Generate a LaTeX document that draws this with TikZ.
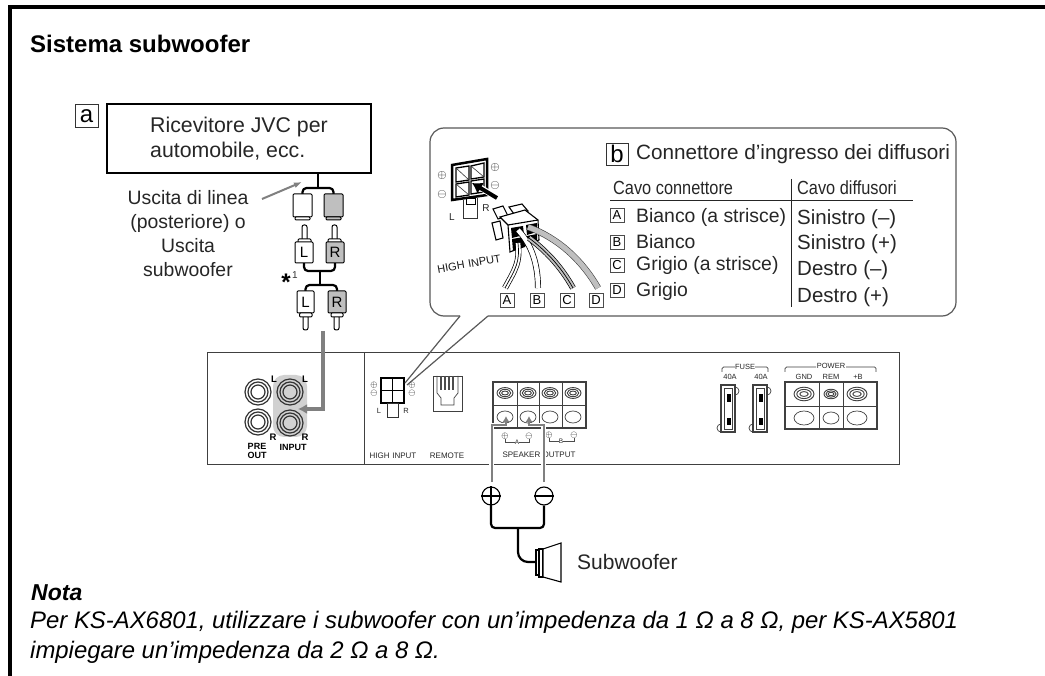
\documentclass[tikz,border=0pt]{standalone}
\usepackage{fontspec}
\setmainfont{Liberation Sans}
\usetikzlibrary{arrows.meta}
\definecolor{gline}{gray}{0.5}
\definecolor{gfill}{gray}{0.75}
\definecolor{hl}{gray}{0.82}
\tikzset{
 lab/.style={font=\fontsize{19.4}{24}\selectfont,text=black!85,inner sep=0},
 tiny/.style={font=\fontsize{7.5}{8}\selectfont,text=black!85,inner sep=0},
 tag/.style={draw=black!70,fill=white,line width=.7pt,minimum width=14pt,minimum height=14pt,inner sep=0,font=\fontsize{13}{13}\selectfont},
 bigtag/.style={draw=black!80,line width=.8pt,minimum width=22pt,minimum height=22pt,inner sep=0,font=\fontsize{24}{24}\selectfont},
 plug/.style={draw=black,line width=1pt,rounded corners=1pt},
 pin/.style={draw=black,line width=1pt,fill=white,rounded corners=2pt},
 body/.style={plug,inner sep=0,font=\fontsize{15}{15}\selectfont},
 wire/.style={draw=black,line width=2.2pt},
 amp/.style={draw=black!75,line width=1pt},
 thin/.style={draw=black!75,line width=.7pt},
 sym/.style={inner sep=0,font=\fontsize{13}{13}\selectfont},
 smsym/.style={inner sep=0,font=\fontsize{9}{9}\selectfont},
 rcal/.style={inner sep=0,font=\bfseries\fontsize{9.5}{10}\selectfont}
}
\newcommand{\rca}[2]{%
 \draw[black!80,line width=1.2pt] (#1,#2) circle (13) (#1,#2) circle (10) (#1,#2) circle (7);
}
\newcommand{\post}[3]{%
 \draw[black!75,line width=.9pt] (#1,#2) ellipse (#3 and {#3*0.68});
 \draw[black!75,line width=.9pt] (#1,#2) ellipse ({#3*.72} and {#3*0.46});
 \draw[black!75,line width=.9pt] (#1,#2) ellipse ({#3*.42} and {#3*0.24});
}
\begin{document}
\begin{tikzpicture}[x=1pt,y=-1pt]
\useasboundingbox (0,0) rectangle (1045,676);
\fill[white] (0,0) rectangle (1045,676);
\draw[black,line width=4pt] (10,676) -- (10,7) -- (1045,7);
\node[anchor=west,inner sep=0,font=\bfseries\fontsize{24}{28}\selectfont] (title) at (30,44) {Sistema subwoofer};
% a
\node[bigtag,minimum width=23pt,minimum height=23pt] (taga) at (86.5,116) {a};
\node[draw=black,line width=2pt,minimum width=264pt,minimum height=69pt,inner sep=0,align=left,font=\fontsize{21.3}{25}\selectfont,text=black!85] (recv) at (239,138.5) {Ricevitore JVC per\\automobile, ecc.};
\node[lab,align=center] (uscita) at (188,234) {Uscita di linea\\(posteriore) o\\Uscita\\subwoofer};
\coordinate (arrs) at (262,199);
\coordinate (arre) at (302,182);
\draw[gline,line width=2pt,-{Latex[length=8pt,width=6pt]}] (arrs) -- (arre);
% top cables
\coordinate (j1) at (318,188);
\draw[wire] (recv.south -| j1) -- (j1);
\draw[wire,rounded corners=4pt] (302.5,196) -- (302.5,188) -- (333.5,188) -- (333.5,196);
\draw[plug,fill=white] (293,194) rectangle (312,217);
\draw[plug,fill=white] (295,217) rectangle (310,220);
\draw[plug,fill=gfill] (324,194) rectangle (343,217);
\draw[plug,fill=gfill] (326,217) rectangle (341,220);
% plugs up
\draw[pin] (302,243) rectangle (307,225);
\draw[pin] (332,243) rectangle (337,225);
\draw[plug,fill=white] (298,239) rectangle (311,243);
\draw[plug,fill=white] (328,239) rectangle (341,243);
\coordinate (j2) at (320,271);
\coordinate (j3) at (320,285);
\draw[wire,rounded corners=4pt] (304,262) -- (304,271) -- (335,271) -- (335,262);
\draw[wire] (j2) -- (j3);
\draw[wire,rounded corners=4pt] (305.5,292) -- (305.5,285) -- (337,285) -- (337,292);
\node[body,fill=white,minimum width=18pt,minimum height=21pt] (l1) at (304,252.5) {L};
\node[body,fill=gfill,minimum width=18pt,minimum height=21pt] (r1) at (335,252.5) {R};
\node[body,fill=white,minimum width=17pt,minimum height=22pt] (l2) at (305.5,302) {L};
\node[body,fill=gfill,minimum width=18pt,minimum height=22pt] (r2) at (337,302) {R};
\draw[pin] (303,315) rectangle (308,330);
\draw[pin] (334,315) rectangle (339,330);
\draw[plug,fill=white] (299.5,313) rectangle (312,317);
\draw[plug,fill=white] (331,313) rectangle (343,317);
\node[inner sep=0,font=\bfseries\fontsize{24}{24}\selectfont] (star) at (286,282) {*};
\node[inner sep=0,font=\fontsize{10}{10}\selectfont,text=black!80] (sup1) at (295,275) {1};
% amp
\draw[amp,fill=white] (207,353) rectangle (899,464);
\draw[amp] (364,353) -- (364,464);
\path[fill=hl,rounded corners=11pt] (273,375) rectangle (307,437);
\rca{258}{392}
\rca{258}{422}
\rca{290}{392}
\rca{290}{423}
\node[rcal] (la1) at (274,379) {L};
\node[rcal] (la2) at (305,379) {L};
\node[rcal] (ra1) at (273,437) {R};
\node[rcal] (ra2) at (305,437) {R};
\node[inner sep=0,align=center,font=\bfseries\fontsize{9}{9}\selectfont] (pre) at (257,450.5) {PRE\\OUT};
\node[inner sep=0,font=\bfseries\fontsize{9}{9}\selectfont] (inp) at (293,447) {INPUT};
\coordinate (grt) at (323,331);
\coordinate (grh) at (298,409);
\draw[gline,line width=3.2pt,-{Latex[length=9pt,width=10pt]}] (grt) |- (grh);
% High input
\node[tiny,font=\fontsize{8}{9}\selectfont] (hi) at (393,456) {HIGH\,\,INPUT};
\node[tiny,font=\fontsize{8}{9}\selectfont] (rem) at (447,456) {REMOTE};
\draw[black,line width=2pt,fill=white] (381,378) rectangle (404,403);
\draw[black,line width=1.2pt] (392.5,378) -- (392.5,403) (381,390.5) -- (404,390.5);
\draw[black!80,line width=.8pt] (387,403) rectangle (398,417);
\node[tiny] (hl) at (379,411) {L};
\node[tiny] (hr) at (406,411) {R};
\foreach \p/\y in {$\oplus$/385,$\ominus$/393}{
 \node[smsym] at (374,\y) {\p};
 \node[smsym] at (412,\y) {\p};}
% remote
\draw[thin] (433,376) rectangle (462,411);
\draw[thin] (437,376) -- (437,393) -- (441,398) -- (441,405) -- (454,405) -- (454,398) -- (458,393) -- (458,376);
\foreach \x in {441,445,449,453}{\draw[black!70,line width=1.4pt] (\x,376) -- (\x,390);}
% speaker block
\draw[amp,line width=1.1pt] (493,382) rectangle (586,428);
\draw[thin] (493,405) -- (586,405);
\foreach \x in {517,539,562}{\draw[thin] (\x,382) -- (\x,428);}
\post{505}{393}{8}
\post{528}{393}{8}
\post{550}{393}{8}
\post{573}{393}{8}
\foreach \x in {505,528,550,573}{\draw[thin] (\x,417) ellipse (8 and 6);}
% speaker labels
\node[smsym] (pa) at (505,436) {$\oplus$};
\node[smsym] (ma) at (529,436) {$\ominus$};
\node[smsym] (pb) at (549,435) {$\oplus$};
\node[smsym] (mb) at (574,435) {$\ominus$};
\node[tiny,font=\fontsize{6.5}{7}\selectfont] (a1) at (517,442) {A};
\node[tiny,font=\fontsize{6.5}{7}\selectfont] (b1) at (561,441) {B};
\draw[black!70,line width=.6pt] (pa.south) |- (a1.west) (a1.east) -| (ma.south) (pb.south) |- (b1.west) (b1.east) -| (mb.south);
\node[tiny,font=\fontsize{8}{9}\selectfont] (spk) at (539,455) {SPEAKER OUTPUT};
% speaker wires
\node[draw=black,line width=1.1pt,circle,minimum size=18pt,inner sep=0] (plus) at (491,496) {};
\draw[black,line width=1.1pt] (plus.west) -- (plus.east) (plus.north) -- (plus.south);
\node[draw=black,line width=1.1pt,circle,minimum size=18pt,inner sep=0] (minus) at (544,496) {};
\draw[black,line width=1.8pt] (minus.west) -- (minus.east);
\coordinate (pt) at (506,416);
\coordinate (mt) at (529,416);
\draw[white,line width=4.5pt] (491.5,480) -- (491.5,425) -- (506,425);
\draw[white,line width=4.5pt] (543.5,480) -- (543.5,425) -- (529,425);
\draw[gline,line width=2pt,-{Latex[length=6pt,width=7pt]}] (491.5,482) -- (491.5,425) -| (pt);
\draw[gline,line width=2pt,-{Latex[length=6pt,width=7pt]}] (543.5,482) -- (543.5,425) -| (mt);
\draw[wire,rounded corners=4pt] (plus.south) -- (491,528) -- (544,528) -- (minus.south);
\draw[wire,rounded corners=10pt] (518,528) -- (518,562) -- (537,562);
% subwoofer
\draw[black,line width=1.1pt,fill=white] (536,550) rectangle (539,575);
\draw[black,line width=1.1pt,fill=white] (539,549) rectangle (543,577);
\draw[black,line width=1.1pt,fill=white] (543,549) -- (561,543) -- (561,582) -- (543,577) -- cycle;
\node[lab,anchor=west,font=\fontsize{21}{24}\selectfont] (sub) at (577,562) {Subwoofer};
% Fuse
\node[tiny] (fuse) at (745,367) {FUSE};
\draw[thin,rounded corners=1.5pt] (722,372) -- (722,367) -- (735,367) (755,367) -- (768,367) -- (768,372);
\node[tiny] (f1) at (730,377) {40A};
\node[tiny] (f2) at (761,377) {40A};
\foreach \d in {0,32}{
\begin{scope}[xshift=\d pt]
\draw[amp,line width=1.1pt,fill=white] (721,385) rectangle (735,432);
\draw[thin] (724,388) rectangle (732,429);
\draw[thin] (735,387) arc (-90:90:4);
\draw[thin] (721,424) arc (-90:-270:4);
\fill[black] (727,394) rectangle (731,402);
\fill[black] (727,418) rectangle (731,425);
\end{scope}}
% Power
\node[tiny] (power) at (831,366) {POWER};
\draw[thin,rounded corners=1.5pt] (785,372) -- (785,367) -- (816,367) (846,367) -- (876,367) -- (876,372);
\node[tiny] (gnd) at (804,377) {GND};
\node[tiny] (rempo) at (831,377) {REM};
\node[tiny] (bplus) at (858,377) {+B};
\draw[amp,line width=1.1pt] (785,382) rectangle (877,429);
\draw[thin] (785,406) -- (877,406) (819,382) -- (819,429) (843,382) -- (843,429);
\post{804}{394}{10}
\post{831}{394}{7}
\post{857}{394}{10}
\draw[thin] (804,418) ellipse (10 and 7) (831,418) ellipse (8 and 6) (857,418) ellipse (10 and 7);
% callout
\coordinate (tip) at (405,383);
\draw[draw=black!65,line width=1.2pt,rounded corners=14pt]
  (460,316) -- (430,316) -- (430,128) -- (956,128) -- (956,316) -- (488,316);
\draw[draw=black!65,line width=1.2pt] (460,316) -- (tip) (488,316) -- (407,385);
% connector drawing
\draw[black!80,line width=.8pt,fill=white] (463,200) -- (463,218) -- (477,218) -- (477,198);
\draw[black,line width=.8pt,fill=white] (466,198) rectangle (475,204);
\draw[black,line width=2.5pt] (452,165) -- (487,159) -- (487,195) -- (452,200) -- cycle;
\draw[black,line width=1.3pt] (456,168) -- (469,166) -- (469,180) -- (456,182) -- cycle;
\draw[black,line width=1.3pt] (471,166) -- (484,163) -- (484,177) -- (471,179) -- cycle;
\draw[black,line width=1.3pt] (456,184) -- (469,182) -- (469,195) -- (456,197) -- cycle;
\draw[black,line width=1.3pt] (471,181) -- (484,179) -- (484,192) -- (471,194) -- cycle;
\draw[black!80,line width=.6pt] (456,168) -- (469,180) (471,166) -- (484,177) (456,184) -- (469,195);
\node[tiny,font=\fontsize{10}{10}\selectfont] (cl) at (452,217) {L};
\node[tiny,font=\fontsize{10}{10}\selectfont] (cr) at (486,208) {R};
\node[sym] at (442,176) {$\oplus$};
\node[sym] at (442,195) {$\ominus$};
\node[sym] at (495,168) {$\oplus$};
\node[sym] at (495,186) {$\ominus$};
\coordinate (ca) at (497,198);
\draw[white,line width=6pt] (ca) -- (478,186);
\draw[black,line width=4pt,-{Latex[length=10pt,width=13pt]}] (ca) -- (472,183);
% plug
\draw[black,line width=1.1pt,fill=white] (493,209) -- (503,206) -- (508,216) -- (498,219) -- cycle;
\draw[black,line width=1.1pt,fill=white] (492,223) -- (500,221) -- (503,238) -- (496,240) -- cycle;
\draw[black,line width=1.1pt,fill=white] (509,207) -- (522,204) -- (528,211) -- (514,214) -- cycle;
\draw[black,line width=1.1pt,fill=white] (500,217) -- (525,210) -- (538,220) -- (539,240) -- (510,252) -- (508,225) -- cycle;
\draw[black,line width=1.1pt] (508,225) -- (538,220);
\fill[black] (511,228) -- (523,226) -- (524,235) -- (512,238) -- cycle;
\fill[black] (526,225) -- (537,223) -- (537,232) -- (527,235) -- cycle;
\fill[black] (512,239) -- (524,237) -- (525,247) -- (513,251) -- cycle;
\fill[black] (527,236) -- (537,234) -- (537,240) -- (528,244) -- cycle;
% wires in balloon
\node[tag] (A) at (507,300) {A};
\node[tag] (B) at (537,300) {B};
\node[tag] (C) at (567,300) {C};
\node[tag] (D) at (596,300) {D};
\coordinate (wa) at (518,243);
\coordinate (wb) at (518,230);
\coordinate (wc) at (529,238);
\coordinate (wd) at (528,227);
\coordinate (ea) at (505,288);
\coordinate (eb) at (538,288);
\coordinate (ec) at (573,288);
\coordinate (ed) at (598,288);
\draw[black,line width=6pt] (ea) .. controls (516,268) and (520,262) .. (wa);
\draw[white,line width=4.6pt] (ea) .. controls (516,268) and (520,262) .. (wa);
\draw[black,line width=.7pt] (ea) .. controls (516,268) and (520,262) .. (wa);
\draw[black,line width=6pt] (eb) .. controls (538,265) and (532,245) .. (wb);
\draw[white,line width=4.6pt] (eb) .. controls (538,265) and (532,245) .. (wb);
\draw[black,line width=6pt] (ec) .. controls (560,265) and (545,250) .. (wc);
\draw[gfill,line width=4.6pt] (ec) .. controls (560,265) and (545,250) .. (wc);
\draw[black,line width=.7pt] (ec) .. controls (560,265) and (545,250) .. (wc);
\draw[black!75,line width=6.4pt] (ed) .. controls (582,260) and (558,238) .. (wd);
\draw[gfill,line width=5.2pt] (ed) .. controls (582,260) and (558,238) .. (wd);
\node[inner sep=0,rotate=10,font=\fontsize{11}{11}\selectfont,text=black!90] (hiin) at (469,264) {HIGH\,\,INPUT};
% table
\node[bigtag] (tagb) at (617,154) {b};
\node[lab,anchor=west,font=\fontsize{20.7}{24}\selectfont] (tb) at (636,154) {Connettore d'ingresso dei diffusori};
\node[lab,anchor=west,font=\fontsize{19}{22}\selectfont,xscale=.86,transform shape] (h1) at (613,188) {Cavo connettore};
\node[lab,anchor=west,font=\fontsize{19}{22}\selectfont,xscale=.86,transform shape] (h2) at (797,188) {Cavo diffusori};
\draw[black!85,line width=1pt] (610,201) -- (913,201);
\draw[black!85,line width=1pt] (791,179) -- (791,307);
\node[tag] (tA) at (617,215) {A};
\node[tag] (tB) at (617,242) {B};
\node[tag] (tC) at (617,265) {C};
\node[tag] (tD) at (617,290) {D};
\foreach \n/\y/\t in {a1t/217/Bianco (a strisce),a2t/242/Bianco,a3t/265/Grigio (a strisce),a4t/291/Grigio}{
 \node[lab,anchor=west] (\n) at (636,\y) {\t};}
\foreach \n/\y/\t in {b1t/219/Sinistro (–),b2t/244/Sinistro (+),b3t/270/Destro (–),b4t/297/Destro (+)}{
 \node[lab,anchor=west,font=\fontsize{20.5}{24}\selectfont] (\n) at (797,\y) {\t};}
% note
\node[anchor=west,inner sep=0,font=\bfseries\itshape\fontsize{23}{26}\selectfont] (nota) at (31,593) {Nota};
\node[anchor=west,inner sep=0,font=\itshape\fontsize{23.9}{26}\selectfont] (n1) at (30,622) {Per KS-AX6801, utilizzare i subwoofer con un'impedenza da 1 Ω a 8 Ω, per KS-AX5801};
\node[anchor=west,inner sep=0,font=\itshape\fontsize{23.9}{26}\selectfont] (n2) at (30,652) {impiegare un'impedenza da 2 Ω a 8 Ω.};
\end{tikzpicture}
\end{document}
